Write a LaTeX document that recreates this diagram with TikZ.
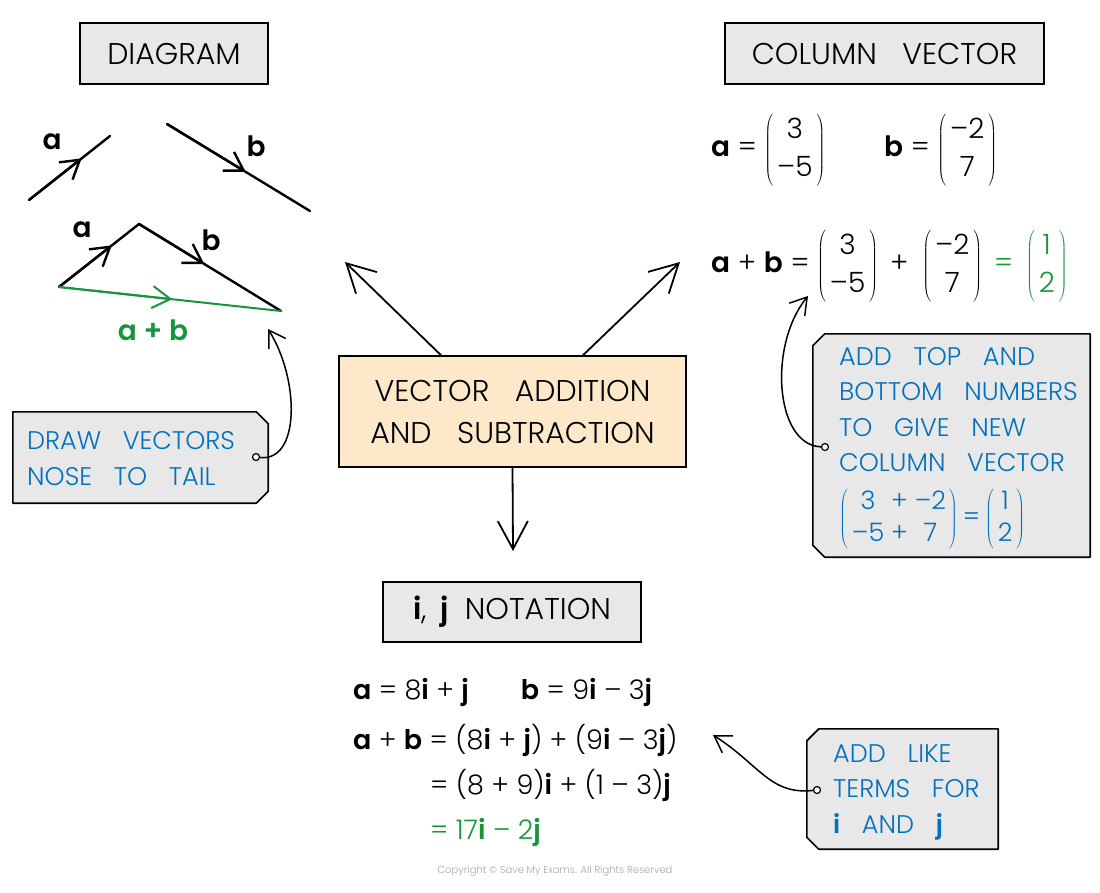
\documentclass[tikz,border=0pt]{standalone}
\usepackage{fontspec}
\setmainfont{Poppins Light}[BoldFont={Poppins SemiBold}]
\usepackage{tikz}
\usetikzlibrary{arrows.meta}
\definecolor{boxgray}{RGB}{232,232,232}
\definecolor{peach}{RGB}{253,232,201}
\definecolor{tagblue}{RGB}{0,112,192}
\definecolor{sumgreen}{RGB}{22,150,60}
\newcommand{\colv}[2]{$\left(\begin{tabular}{@{\hspace{4pt}}c@{\hspace{4pt}}}#1\\#2\end{tabular}\right)$}
\newcommand{\widesp}{\spaceskip=0.85em\relax}
\tikzstyle{header} = [draw, fill=boxgray, line width=1.6pt, minimum height=61pt, font={\fontsize{30}{36}\selectfont\widesp}]
\tikzstyle{mainbox} = [draw, fill=peach, line width=1.6pt, align=center, minimum width=347pt, minimum height=111pt, font={\fontsize{30}{42}\selectfont\widesp}]
\tikzstyle{tagbox} = [inner sep=0pt]
\tikzstyle{tagline} = [draw, fill=boxgray, line width=1.6pt, line join=round]
\tikzstyle{tagtext} = [text=tagblue, align=left, inner sep=0pt, font={\fontsize{25.5}{35.5}\selectfont\widesp}]
\tikzstyle{hole} = [circle, draw, fill=white, line width=1.2pt, inner sep=0pt, minimum size=7pt]
\tikzstyle{bigarrow} = [line width=1.8pt, -{Straight Barb[length=28pt,width=30pt]}]
\tikzstyle{curvearrow} = [line width=1.5pt, -{Straight Barb[length=16pt,width=20pt]}]
\tikzstyle{vecline} = [line width=2.4pt, line cap=round]
\tikzstyle{chev} = [line width=2.4pt, -{Straight Barb[length=18pt,width=22pt]}]
\tikzstyle{veclabel} = [font=\fontsize{28}{30}\selectfont\bfseries]
\tikzstyle{eq} = [inner sep=0pt, font=\fontsize{28}{38}\selectfont]
\tikzstyle{ijeq} = [inner sep=0pt, font=\fontsize{27}{30}\selectfont]
\begin{document}
\begin{tikzpicture}[x=1pt,y=-1pt]
	\useasboundingbox (0,0) rectangle (1100,892);
	% cajas
	\node[header, minimum width=188pt] (diagram) at (174,53.5) {DIAGRAM};
	\node[header, minimum width=319pt] (colvec) at (884.5,53.5) {COLUMN VECTOR};
	\node[mainbox] (topic) at (512.5,411.5) {VECTOR ADDITION\\AND SUBTRACTION};
	\node[header, minimum width=258pt, minimum height=60pt] (ijnot) at (512,612) {\textbf{i},\hspace{14pt}\textbf{j}\hspace{16pt}NOTATION};
	% flechas
	\coordinate (tipdiag) at (345,262);
	\coordinate (tipcol) at (680,262);
	\coordinate (tipij) at (513,551);
	\draw[bigarrow] ([xshift=-71.5pt]topic.north) -- (tipdiag);
	\draw[bigarrow] ([xshift=70.5pt]topic.north) -- (tipcol);
	\draw[bigarrow] (topic.south) -- (tipij);
	% diagrama
	\coordinate (a1) at (29,200); \coordinate (a2) at (110,136);
	\coordinate (b1) at (167,124); \coordinate (b2) at (310,211);
	\draw[vecline] (a1) -- coordinate[pos=0.65] (am) (a2);
	\draw[vecline] (b1) -- coordinate[pos=0.55] (bm) (b2);
	\draw[chev] (a1) -- (am);
	\draw[chev] (b1) -- (bm);
	\node[veclabel] (la) at (52,142) {a};
	\node[veclabel] (lb) at (256,146) {b};
	\coordinate (p) at (59,287); \coordinate (q) at (139,224); \coordinate (r) at (281,311);
	\draw[vecline] (p) -- coordinate[pos=0.66] (pm) (q) -- coordinate[pos=0.46] (qm) (r);
	\draw[vecline, line width=2pt, sumgreen] (p) -- coordinate[pos=0.51] (rm) (r);
	\draw[chev] (p) -- (pm);
	\draw[chev] (q) -- (qm);
	\draw[chev, line width=2pt, sumgreen] (p) -- (rm);
	\node[veclabel] (la2) at (82,230) {a};
	\node[veclabel] (lb2) at (211,240) {b};
	\node[veclabel, text=sumgreen] (lab) at (153,330) {a + b};
	% vector columna
	\node[eq, anchor=west] (veca) at (711,150) {\textbf{a} = \colv{3}{--5}};
	\node[eq, anchor=west] (vecb) at (884,150) {\textbf{b} = \colv{--2}{7}};
	\node[eq, anchor=west] (vecsum) at (711,266) {\textbf{a} + \textbf{b} = \colv{3}{--5}\hspace{12pt}+\hspace{14pt}\colv{--2}{7}\hspace{12pt}\textcolor{sumgreen}{=\hspace{13pt}\colv{1}{2}}};
	% notacion i, j
	\node[ijeq, anchor=base west] (ija) at (353,699) {\textbf{a} = 8\textbf{i} + \textbf{j}\hspace{52pt}\textbf{b} = 9\textbf{i} -- 3\textbf{j}};
	\node[ijeq, anchor=base west] (ijb) at (353,749) {\textbf{a} + \textbf{b} = (8\textbf{i} + \textbf{j}) + (9\textbf{i} -- 3\textbf{j})};
	\node[ijeq, anchor=base west] (ijc) at (430,794) {= (8 + 9)\textbf{i} + (1 -- 3)\textbf{j}};
	\node[ijeq, anchor=base west, text=sumgreen] (ijd) at (430,839) {= 17\textbf{i} -- 2\textbf{j}};
	% etiquetas
	\node[tagbox, minimum width=255pt, minimum height=91pt] (tagdraw) at (140.5,457.5) {};
	\draw[tagline] (tagdraw.north west) -- ([xshift=-12pt]tagdraw.north east) -- ([yshift=-12pt]tagdraw.north east) -- ([yshift=12pt]tagdraw.south east) -- ([xshift=-12pt]tagdraw.south east) -- (tagdraw.south west) -- cycle;
	\node[tagtext, anchor=west] (txtdraw) at (27,458.5) {DRAW VECTORS\\NOSE TO TAIL};
	\node[hole] (holedraw) at (256,457) {};
	\coordinate (tipdraw) at (268,329);
	\draw[curvearrow] (holedraw) .. controls (300,462) and (300,380) .. (tipdraw);
	\node[tagbox, minimum width=277pt, minimum height=223pt] (tagadd) at (951.5,445.5) {};
	\draw[tagline] ([xshift=12pt]tagadd.north west) -- (tagadd.north east) -- (tagadd.south east) -- ([xshift=12pt]tagadd.south west) -- ([yshift=12pt]tagadd.south west) -- ([yshift=-12pt]tagadd.north west) -- cycle;
	\node[tagtext, anchor=north west] (txtadd) at (839,347) {ADD TOP AND\\BOTTOM NUMBERS\\TO GIVE NEW\\COLUMN VECTOR\\[15pt]\def\arraystretch{0.88}$\left(\begin{tabular}{@{\hspace{4pt}}c@{\hspace{7pt}}c@{\hspace{7pt}}c@{\hspace{3pt}}}3&+&--2\\--5&+&7\end{tabular}\right)$\hspace{5pt}=\hspace{5pt}\colv{1}{2}};
	\node[hole] (holeadd) at (825,447) {};
	\coordinate (tipadd) at (808,296);
	\draw[curvearrow] (holeadd) .. controls (775,445) and (768,345) .. (tipadd);
	\node[tagbox, minimum width=191pt, minimum height=120pt] (taglike) at (902.5,789) {};
	\draw[tagline] ([xshift=12pt]taglike.north west) -- (taglike.north east) -- (taglike.south east) -- ([xshift=12pt]taglike.south west) -- ([yshift=12pt]taglike.south west) -- ([yshift=-12pt]taglike.north west) -- cycle;
	\node[tagtext, anchor=west] (txtlike) at (833,792) {ADD LIKE\\TERMS FOR\\\textbf{i} AND \textbf{j}};
	\node[hole] (holelike) at (817,790) {};
	\coordinate (tiplike) at (713,735);
	\draw[curvearrow] (holelike) .. controls (770,795) and (760,765) .. (tiplike);
	\node[font=\fontsize{10}{12}\selectfont, text=gray!70] (copy) at (555,871) {Copyright © Save My Exams. All Rights Reserved};
\end{tikzpicture}
\end{document}
